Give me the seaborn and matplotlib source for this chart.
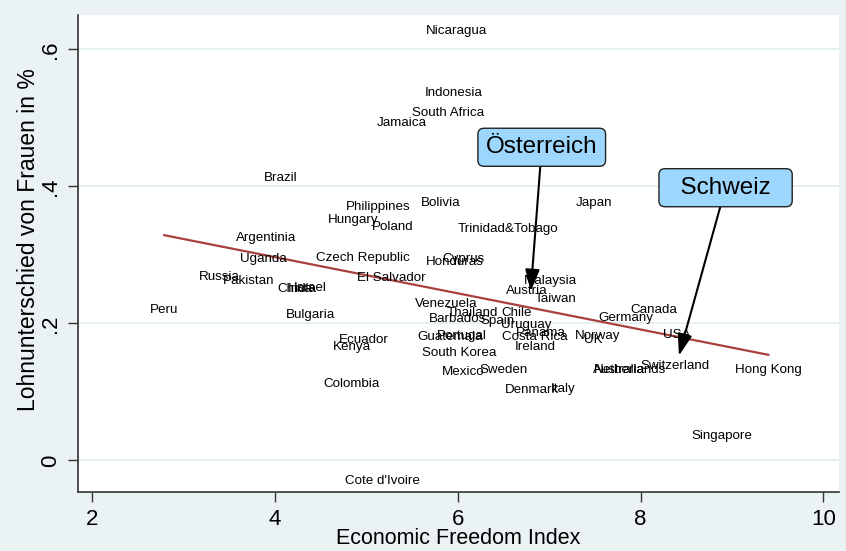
import numpy as np
import pandas as pd
import matplotlib
matplotlib.use("Agg")
import matplotlib.pyplot as plt
import seaborn as sns

# country labels, economic freedom index, wage gap
countries = ["Nicaragua", "Indonesia", "South Africa", "Jamaica", "Brazil", "Philippines",
             "Bolivia", "Japan", "Hungary", "Poland", "Trinidad&Tobago", "Argentinia",
             "Uganda", "Czech Republic", "Cyprus", "Honduras", "Russia", "Pakistan",
             "El Salvador", "Malaysia", "China", "India", "Israel", "Austria", "Taiwan",
             "Peru", "Venezuela", "Thailand", "Chile", "Bulgaria", "Barbados", "Canada",
             "Germany", "Spain", "Uruguay", "Panama", "USA", "Ecuador", "Portugal",
             "Guatemala", "Costa Rica", "Norway", "UK", "Kenya", "Ireland", "South Korea",
             "Mexico", "Sweden", "Australia", "Netherlands", "Switzerland", "Hong Kong",
             "Colombia", "Denmark", "Italy", "Singapore", "Cote d'Ivoire"]
freedom = [5.99, 5.96, 5.90, 5.39, 4.07, 5.13,
           5.81, 7.49, 4.86, 5.29, 6.55, 3.91,
           3.88, 4.97, 6.06, 5.97, 3.39, 3.71,
           5.27, 7.01, 4.22, 4.30, 4.39, 6.76, 7.07,
           2.79, 5.87, 6.16, 6.65, 4.39, 6.00, 8.14,
           7.84, 6.44, 6.75, 6.91, 8.39, 4.97, 6.05,
           5.92, 6.84, 7.53, 7.48, 4.84, 6.85, 6.02,
           6.06, 6.50, 7.77, 7.88, 8.38, 9.40,
           4.84, 6.81, 7.15, 8.89, 5.18]
wage_gap = [0.629, 0.539, 0.509, 0.495, 0.415, 0.372,
            0.378, 0.378, 0.353, 0.343, 0.340, 0.327,
            0.296, 0.298, 0.296, 0.292, 0.270, 0.264,
            0.269, 0.264, 0.253, 0.253, 0.254, 0.250, 0.238,
            0.222, 0.231, 0.218, 0.218, 0.215, 0.209, 0.222,
            0.210, 0.206, 0.200, 0.188, 0.185, 0.178, 0.184,
            0.182, 0.182, 0.184, 0.178, 0.168, 0.168, 0.159,
            0.131, 0.134, 0.134, 0.134, 0.140, 0.134,
            0.114, 0.105, 0.107, 0.038, -0.028]

# callouts: text, arrow target, box position
callout_text = ["Österreich", "  Schweiz  "]
callout_target = [(6.80, 0.247), (8.42, 0.153)]
callout_box = [(6.92, 0.457), (8.93, 0.398)]

df = pd.DataFrame({"country": countries, "efi": freedom, "gap": wage_gap})

sns.set_theme(style="white")
plt.rcParams["font.family"] = ["Liberation Sans", "DejaVu Sans"]

bg = "#EAF2F3"
fig = plt.figure(figsize=(8.46, 5.51), dpi=100, facecolor=bg)
ax = fig.add_axes([78 / 846, 1 - 492 / 551, (839 - 78) / 846, (492 - 15) / 551])
ax.set_facecolor("white")

# horizontal grid
for yv in [0, 0.2, 0.4, 0.6]:
    ax.axhline(yv, color="#E3EDEF", lw=1.2, zorder=0)

sns.regplot(data=df, x="efi", y="gap", scatter=False, ci=None, truncate=True,
            line_kws={"color": "#A8413B", "lw": 1.6}, ax=ax)

for name, xv, yv in zip(countries, freedom, wage_gap):
    ax.text(xv, yv, name, ha="center", va="center_baseline", fontsize=9.6,
            color="black", zorder=3)

for txt, tgt, box in zip(callout_text, callout_target, callout_box):
    ax.annotate(txt, xy=tgt, xytext=box, ha="center", va="center", fontsize=17.5,
                color="black",
                bbox=dict(boxstyle="round,pad=0.33,rounding_size=0.25",
                          fc="#9DD7FD", ec="#222222", lw=1),
                arrowprops=dict(arrowstyle="-|>,head_length=0.75,head_width=0.25",
                                color="black", lw=1.5, shrinkA=0, shrinkB=0),
                zorder=4)

ax.set_xlim(1.85, 10.17)
ax.set_ylim(-0.046, 0.65)
ax.set_xticks([2, 4, 6, 8, 10])
ax.set_yticks([0, 0.2, 0.4, 0.6])
ax.set_yticklabels(["0", ".2", ".4", ".6"], rotation=90, va="center")
ax.tick_params(axis="both", direction="out", length=7, width=1, labelsize=16,
               color="#333333", labelcolor="black", pad=5, bottom=True, left=True)
for side in ["top", "right"]:
    ax.spines[side].set_visible(False)
for side in ["left", "bottom"]:
    ax.spines[side].set_color("#333333")
    ax.spines[side].set_linewidth(1.2)

ax.set_xlabel("Economic Freedom Index", fontsize=15.5, color="black", labelpad=-1)
ax.set_ylabel("Lohnunterschied von Frauen in %", fontsize=16.5, color="black")
ax.yaxis.set_label_coords(-0.05, 0.53)

fig.savefig("out.png", dpi=100, facecolor=bg)
